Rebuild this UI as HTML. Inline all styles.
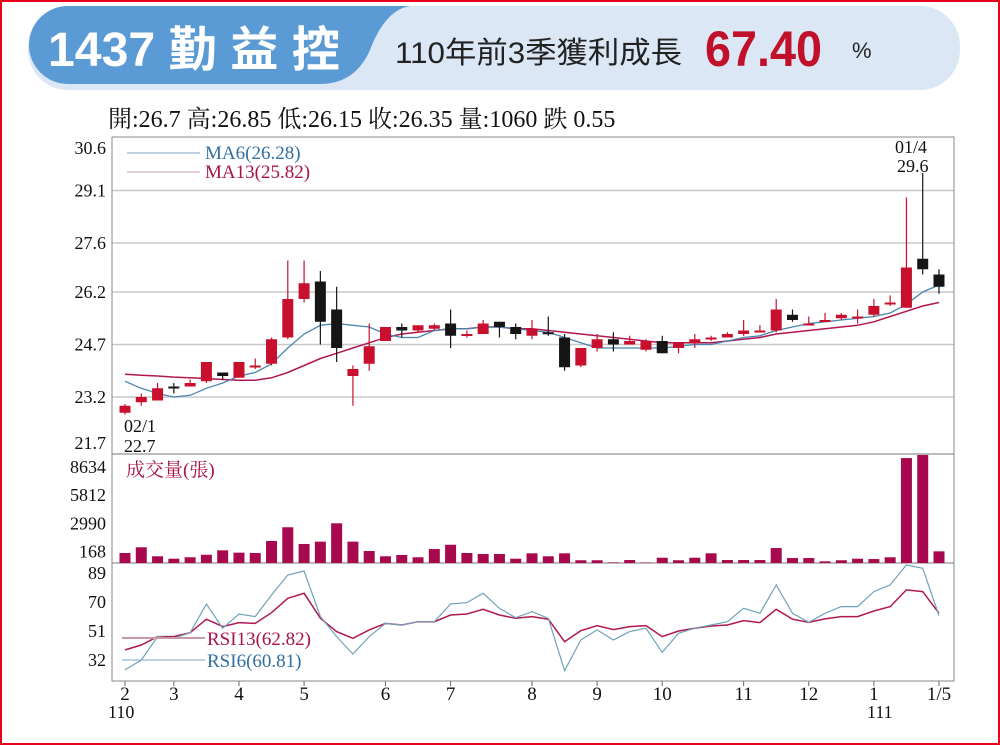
<!DOCTYPE html>
<html><head><meta charset="utf-8">
<style>
body{margin:0;background:#fff;}
#wrap{position:relative;width:1000px;height:745px;overflow:hidden;background:#fff;font-family:"Liberation Serif","Noto Serif CJK SC",serif;}
</style></head>
<body>
<div id="wrap">
<svg id="svg" width="1000" height="745" viewBox="0 0 1000 745">
  <rect x="1" y="1" width="998" height="743" fill="none" stroke="#e8001c" stroke-width="2"/>
  <rect x="28" y="6" width="932" height="84" rx="40" fill="#dce7f5"/>
  <path d="M68,6 L410,6 Q385,10 370,50 Q355,84 320,84 L68,84 A39,39 0 0 1 68,6 Z" fill="#5a9bd6"/>
  <text x="48" y="66" font-family="Liberation Sans,Noto Sans CJK TC,sans-serif" font-weight="bold" font-size="48" fill="#fff" textLength="292" lengthAdjust="spacingAndGlyphs">1437 勤 益 控</text>
  <text x="395" y="63" font-family="Liberation Sans,Noto Sans CJK TC,sans-serif" font-size="30" fill="#222" textLength="287" lengthAdjust="spacingAndGlyphs">110年前3季獲利成長</text>
  <text x="705" y="66" font-family="Liberation Sans,sans-serif" font-weight="bold" font-size="50" fill="#c0102a" textLength="117" lengthAdjust="spacingAndGlyphs">67.40</text>
  <text x="852" y="58" font-family="Liberation Sans,sans-serif" font-size="22" fill="#222">%</text>
  <text x="108" y="127" font-size="24" fill="#111" font-family="Liberation Serif,Noto Serif CJK SC,serif">開:26.7 高:26.85 低:26.15 收:26.35 量:1060 跌 0.55</text>
  <g id="grid"></g>
  <rect x="112" y="137" width="842" height="544" fill="none" stroke="#888" stroke-width="1"/>
  <line x1="112" y1="454" x2="954" y2="454" stroke="#777"/>
  <line x1="112" y1="563" x2="954" y2="563" stroke="#777"/>
  <g id="marks"></g>
  <line x1="127" y1="153" x2="200" y2="153" stroke="#7ea3c0"/>
  <text x="205" y="159" font-size="19" fill="#2f6f9f">MA6(26.28)</text>
  <line x1="127" y1="172" x2="200" y2="172" stroke="#c79aa8"/>
  <text x="205" y="178" font-size="19" fill="#a8124a">MA13(25.82)</text>
  <text x="124" y="432" font-size="18" fill="#111">02/1</text>
  <text x="124" y="452" font-size="18" fill="#111">22.7</text>
  <text x="895" y="153" font-size="18" fill="#111">01/4</text>
  <text x="897" y="172" font-size="18" fill="#111">29.6</text>
  <text x="126" y="476" font-size="19" fill="#a8124a" font-family="Liberation Serif,Noto Serif CJK TC,serif">成交量(張)</text>
  <line x1="122" y1="638" x2="205" y2="638" stroke="#c79aa8" stroke-width="2"/>
  <text x="207" y="645" font-size="19" fill="#a8124a">RSI13(62.82)</text>
  <line x1="122" y1="660" x2="205" y2="660" stroke="#7ea3c0"/>
  <text x="207" y="667" font-size="19" fill="#2f6f9f">RSI6(60.81)</text>
  <text x="108" y="718" font-size="18" fill="#111">110</text>
  <text x="867" y="718" font-size="18" fill="#111">111</text>
</svg>
</div>
<script>
const closes=[22.95,23.2,23.45,23.45,23.6,24.2,23.8,24.2,24.1,24.85,26.0,26.45,25.35,24.6,24.0,24.65,25.2,25.1,25.25,25.25,24.95,25.0,25.3,25.2,25.0,25.15,25.0,24.05,24.6,24.85,24.7,24.8,24.8,24.45,24.75,24.85,24.9,25.0,25.1,25.1,25.7,25.4,25.3,25.4,25.55,25.5,25.8,25.9,26.9,26.85,26.35];
const opens=[22.75,23.05,23.1,23.5,23.5,23.65,23.9,23.75,24.05,24.15,24.9,26.0,26.5,25.7,23.8,24.15,24.8,25.2,25.1,25.15,25.3,24.95,25.0,25.35,25.2,24.95,25.05,24.9,24.1,24.6,24.85,24.7,24.55,24.8,24.6,24.75,24.85,24.9,25.0,25.1,25.1,25.55,25.3,25.4,25.45,25.5,25.55,25.85,25.75,27.15,26.7];
const highs=[23.0,23.3,23.6,23.6,23.7,24.2,23.9,24.2,24.3,24.9,27.1,27.1,26.8,26.35,24.1,25.3,25.2,25.3,25.25,25.3,25.7,25.1,25.4,25.35,25.3,25.4,25.5,25.0,24.6,25.0,25.05,24.95,24.85,24.95,24.75,25.0,24.95,25.05,25.4,25.25,26.0,25.7,25.5,25.6,25.6,25.7,26.0,26.1,28.9,29.6,26.85];
const lows=[22.7,22.95,23.1,23.3,23.5,23.6,23.7,23.75,24.0,24.1,24.85,25.9,24.7,24.2,22.95,23.95,24.85,24.9,25.05,25.1,24.6,24.9,25.0,24.9,24.85,24.85,24.95,23.95,24.05,24.5,24.5,24.7,24.5,24.45,24.45,24.6,24.8,24.9,24.95,25.05,25.05,25.35,25.25,25.35,25.4,25.3,25.5,25.8,25.75,26.7,26.15];
const ma6=[23.65,23.45,23.3,23.2,23.25,23.45,23.6,23.8,23.9,24.15,24.6,25.0,25.25,25.3,25.25,25.2,25.0,24.9,24.9,25.1,25.15,25.15,25.2,25.2,25.15,25.1,25.05,24.9,24.75,24.6,24.6,24.6,24.6,24.6,24.65,24.7,24.7,24.8,24.9,24.95,25.1,25.2,25.3,25.35,25.4,25.45,25.5,25.6,25.85,26.2,26.4];
const ma13=[23.85,23.82,23.8,23.77,23.75,23.73,23.7,23.68,23.68,23.75,23.9,24.1,24.3,24.45,24.6,24.75,24.9,25.0,25.05,25.1,25.15,25.15,25.2,25.2,25.15,25.15,25.1,25.05,25.0,24.95,24.9,24.85,24.8,24.75,24.75,24.75,24.75,24.8,24.85,24.9,25.0,25.05,25.1,25.15,25.2,25.25,25.35,25.5,25.65,25.8,25.9];
const volumes=[910,1430,610,390,520,750,1150,940,910,2000,3250,1730,1940,3610,1940,1090,610,730,520,1270,1660,910,820,820,390,880,610,880,250,250,60,270,50,480,250,480,880,270,270,270,1360,450,450,150,250,390,360,520,9540,9820,1060];
const rsi6=[25.5,32,47.3,46.2,49.9,68.7,52.8,62.1,60.4,74.6,87.7,90.3,60.4,47.3,35.9,47.3,56,54.9,57.1,57.1,68.7,69.6,75.7,65.9,59.7,63.7,59.3,25,45.1,51.7,45.1,50.6,52.8,37,49.5,52.8,54.9,57.1,65.9,62.6,81.2,62.6,56.7,62.6,67,67,76.8,81.2,94.3,92.1,61.1];
const rsi13=[38.6,41.8,47.3,47.3,49.9,58.7,53.9,56.5,56,63,72.4,75.7,59.3,50.6,46.2,51.7,56,54.9,57.1,57.1,61.5,62.1,65.2,61.5,59.3,60.4,58.7,44,51.2,54.5,51.9,53.9,54.5,47.3,51,52.8,54.3,54.9,57.8,56.5,65.2,58.7,56.7,58.9,60.4,60.4,64.1,67,77.9,76.8,62.6];
const priceTicks=[30.6,29.1,27.6,26.2,24.7,23.2,21.7];
const volTicks=[8634,5812,2990,168];
const rsiTicks=[89,70,51,32];
const monthLabels=["2","3","4","5","6","7","8","9","10","11","12","1","1/5"];
const monthIndex=[0,3,7,11,16,20,25,29,33,38,42,46,50];

const NS="http://www.w3.org/2000/svg";
const X0=125,DX=16.28;
function xAt(i){return X0+i*DX;}
function yPrice(v){return 243+(27.6-v)*35;}
function yVol(v){return 563-v*0.011;}
function yVolLabel(v){return 467+(8634-v)*0.0100;}
function yRsi(v){return 573+(89-v)*1.526;}
function mk(tag,attrs,parent){const e=document.createElementNS(NS,tag);for(const k in attrs)e.setAttribute(k,attrs[k]);parent.appendChild(e);return e;}
const grid=document.getElementById('grid'),marks=document.getElementById('marks');

priceTicks.forEach(function(t,i){
  if(i>0&&i<priceTicks.length-1){const g=mk('line',{x1:112,x2:954,y1:yPrice(t),y2:yPrice(t),stroke:'#c8c8c8','stroke-width':1.5},grid);
  
  }
  const tx=mk('text',{x:106,y:Math.min(Math.max(yPrice(t),148),443)+6,'text-anchor':'end','font-size':18,fill:'#111'},grid);
  tx.textContent=t.toFixed(1);
  
  
});
volTicks.forEach(function(t){
  const tx=mk('text',{x:106,y:yVolLabel(t)+6,'text-anchor':'end','font-size':18,fill:'#111'},grid);
  tx.textContent=t;
  
  
});
rsiTicks.forEach(function(t){
  const tx=mk('text',{x:106,y:yRsi(t)+6,'text-anchor':'end','font-size':18,fill:'#111'},grid);
  tx.textContent=t;
  
  
});
monthLabels.forEach(function(m,k){
  const tx=mk('text',{x:xAt(monthIndex[k]),y:700,'text-anchor':'middle','font-size':19,fill:'#111'},grid);
  tx.textContent=m;
  
  
  const tk=mk('line',{x1:xAt(monthIndex[k]),x2:xAt(monthIndex[k]),y1:681,y2:686,stroke:'#666'},grid);
  
  
});
function line(arr,fy,color,name,w){
  const p=arr.map(function(v,i){return (i?'L':'M')+xAt(i).toFixed(1)+','+fy(v).toFixed(1);}).join('');
  const e=mk('path',{d:p,fill:'none',stroke:color,'stroke-width':w},marks);
  
  
}
line(ma13,yPrice,'#b0184f','ma13-line',1.5);
line(ma6,yPrice,'#4a87ae','ma6-line',1.3);
closes.forEach(function(c,i){
  const o=opens[i],up=c>=o,col=up?'#c8102e':'#151515',x=xAt(i);
  const w=mk('line',{x1:x,x2:x,y1:yPrice(highs[i]),y2:yPrice(lows[i]),stroke:col,'stroke-width':1.2},marks);
  
  
  const top=yPrice(Math.max(o,c)),h=Math.max(2,yPrice(Math.min(o,c))-top);
  const b=mk('rect',{x:x-5.5,y:top,width:11,height:h,fill:col},marks);
  
  
});
volumes.forEach(function(v,i){
  const y=yVol(v);
  const b=mk('rect',{x:xAt(i)-5.5,y:y,width:11,height:563-y,fill:'#a8084e'},marks);
  
  
});
line(rsi13,yRsi,'#b0184f','rsi13-line',1.5);
line(rsi6,yRsi,'#6fa3b8','rsi6-line',1.2);
</script>
</body></html>
